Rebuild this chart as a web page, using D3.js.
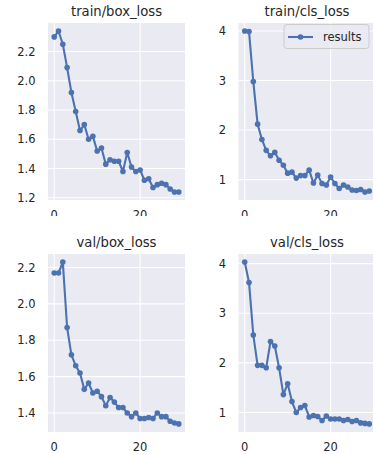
<!DOCTYPE html>
<html>
<head>
<meta charset="utf-8">
<script src="https://cdn.jsdelivr.net/npm/d3@7"></script>
<style>
  html, body { margin: 0; padding: 0; background: #fff; }
  svg { display: block; font-family: "DejaVu Sans", sans-serif; }
</style>
</head>
<body>
<div id="chart"></div>
<script>
// epochs (x values)
const epochs = [0,1,2,3,4,5,6,7,8,9,10,11,12,13,14,15,16,17,18,19,20,21,22,23,24,25,26,27,28,29];

const trainBoxLoss = [2.30,2.34,2.25,2.09,1.92,1.79,1.66,1.70,1.60,1.62,1.52,1.54,1.43,1.46,1.45,1.45,1.38,1.51,1.41,1.38,1.39,1.32,1.33,1.27,1.29,1.30,1.29,1.26,1.24,1.24];
const trainClsLoss = [4.00,3.99,2.98,2.12,1.81,1.59,1.48,1.55,1.39,1.29,1.13,1.15,1.03,1.08,1.08,1.19,0.93,1.09,0.92,0.89,1.05,0.92,0.82,0.89,0.85,0.79,0.78,0.80,0.75,0.77];
const valBoxLoss = [2.17,2.17,2.23,1.87,1.72,1.66,1.62,1.53,1.565,1.51,1.52,1.49,1.44,1.485,1.46,1.43,1.43,1.40,1.38,1.40,1.37,1.37,1.375,1.37,1.40,1.38,1.38,1.355,1.345,1.34];
const valClsLoss = [4.03,3.62,2.56,1.95,1.95,1.90,2.43,2.34,1.90,1.36,1.58,1.22,1.00,1.10,1.14,0.91,0.94,0.92,0.84,0.93,0.87,0.87,0.87,0.84,0.86,0.82,0.84,0.79,0.78,0.77];

const titles = ["train/box_loss", "train/cls_loss", "val/box_loss", "val/cls_loss"];
const xTicks = [0, 20];
const boxTicks = [1.2, 1.4, 1.6, 1.8, 2.0, 2.2];
const valBoxTicks = [1.4, 1.6, 1.8, 2.0, 2.2];
const clsTicks = [1, 2, 3, 4];
const legendLabel = "results";

const width = 373, height = 454;
const lineColor = "#4C72B0";
const bgColor = "#EAEAF2";
const textColor = "#262626";

// layout of the 2x2 grid
const panels = [
  { title: titles[0], values: trainBoxLoss, yTicks: boxTicks, fmt: d3.format(".1f"), left: 48, right: 185, top: 23, bottom: 200, legend: false },
  { title: titles[1], values: trainClsLoss, yTicks: clsTicks, fmt: d3.format("d"), left: 238.5, right: 375.5, top: 23, bottom: 200, legend: true },
  { title: titles[2], values: valBoxLoss, yTicks: valBoxTicks, fmt: d3.format(".1f"), left: 48, right: 185, top: 254, bottom: 432, legend: false },
  { title: titles[3], values: valClsLoss, yTicks: clsTicks, fmt: d3.format("d"), left: 238.5, right: 375.5, top: 254, bottom: 432, legend: false }
];

const svg = d3.select("#chart").append("svg")
  .attr("width", width)
  .attr("height", height);

// top row tick labels get cut off in the reference
svg.append("clipPath").attr("id", "topcut")
  .append("rect").attr("x", 0).attr("y", 0).attr("width", width).attr("height", 216);

// matplotlib style 5% margins
function padded(ext) {
  const r = ext[1] - ext[0];
  return [ext[0] - r * 0.05, ext[1] + r * 0.05];
}

panels.forEach((p, i) => {
  const x = d3.scaleLinear()
    .domain(padded(d3.extent(epochs)))
    .range([p.left, p.right]);
  const y = d3.scaleLinear()
    .domain(padded(d3.extent(p.values)))
    .range([p.bottom, p.top]);

  const g = svg.append("g");

  g.append("rect")
    .attr("x", p.left).attr("y", p.top)
    .attr("width", p.right - p.left).attr("height", p.bottom - p.top)
    .attr("fill", bgColor);

  // grid
  g.selectAll(".gy").data(p.yTicks).join("line")
    .attr("x1", p.left).attr("x2", p.right)
    .attr("y1", d => y(d)).attr("y2", d => y(d))
    .attr("stroke", "#fff").attr("stroke-width", 1.1);
  g.selectAll(".gx").data(xTicks).join("line")
    .attr("x1", d => x(d)).attr("x2", d => x(d))
    .attr("y1", p.top).attr("y2", p.bottom)
    .attr("stroke", "#fff").attr("stroke-width", 1.1);

  // tick labels
  g.selectAll(".ty").data(p.yTicks).join("text")
    .attr("x", p.left - 12.5)
    .attr("y", d => y(d))
    .attr("dy", "0.36em")
    .attr("text-anchor", "end")
    .attr("font-size", 11.5)
    .attr("fill", textColor)
    .text(d => p.fmt(d));

  const tx = g.append("g");
  if (i < 2) tx.attr("clip-path", "url(#topcut)");
  tx.selectAll("text").data(xTicks).join("text")
    .attr("x", d => x(d))
    .attr("y", p.bottom + 19)
    .attr("text-anchor", "middle")
    .attr("font-size", 11.5)
    .attr("fill", textColor)
    .text(d => d);

  // title
  g.append("text")
    .attr("x", (p.left + p.right) / 2)
    .attr("y", p.top - 7.5)
    .attr("text-anchor", "middle")
    .attr("font-size", 13.2)
    .attr("fill", textColor)
    .text(p.title);

  // series
  const line = d3.line()
    .x((d, k) => x(epochs[k]))
    .y(d => y(d));

  g.append("path")
    .datum(p.values)
    .attr("d", line)
    .attr("fill", "none")
    .attr("stroke", lineColor)
    .attr("stroke-width", 2.1)
    .attr("stroke-linejoin", "round");

  g.selectAll(".pt").data(p.values).join("circle")
    .attr("cx", (d, k) => x(epochs[k]))
    .attr("cy", d => y(d))
    .attr("r", 2.8)
    .attr("fill", lineColor);

  if (p.legend) {
    const lg = g.append("g").attr("transform", `translate(${p.right - 91.5},${p.top + 1.5})`);
    lg.append("rect")
      .attr("width", 85).attr("height", 24).attr("rx", 3)
      .attr("fill", bgColor).attr("fill-opacity", 0.8)
      .attr("stroke", "#cccccc").attr("stroke-width", 1);
    lg.append("line")
      .attr("x1", 4).attr("x2", 29).attr("y1", 12.5).attr("y2", 12.5)
      .attr("stroke", lineColor).attr("stroke-width", 2.1);
    lg.append("circle")
      .attr("cx", 16.5).attr("cy", 12.5).attr("r", 2.8)
      .attr("fill", lineColor);
    lg.append("text")
      .attr("x", 39).attr("y", 12.5).attr("dy", "0.36em")
      .attr("font-size", 11.5).attr("fill", textColor)
      .text(legendLabel);
  }
});
</script>
</body>
</html>
